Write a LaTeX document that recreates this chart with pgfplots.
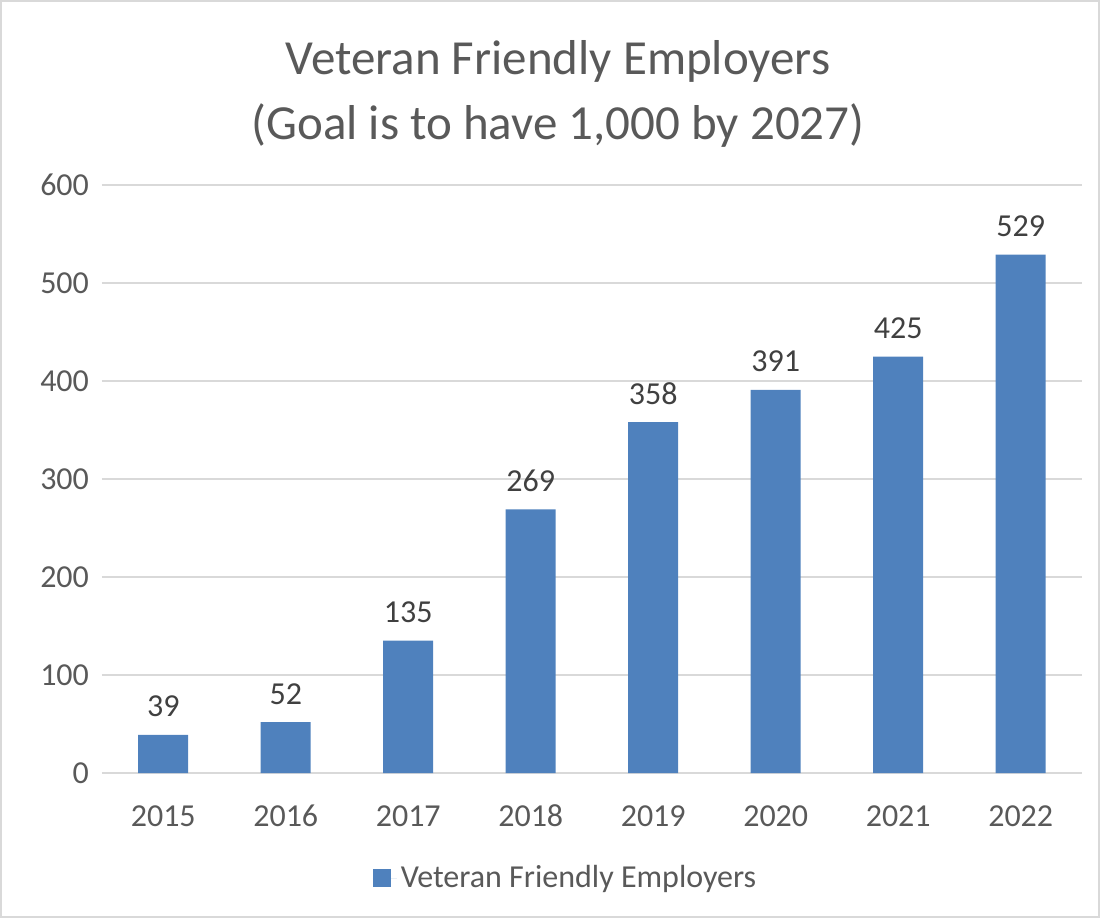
\documentclass[border=0pt]{standalone}
\usepackage{pgfplots}
\pgfplotsset{compat=1.18}
\usepackage{fontspec}
\setmainfont{Carlito}
\definecolor{barblue}{HTML}{4F81BD}
\definecolor{txtgray}{HTML}{595959}
\definecolor{lblgray}{HTML}{404040}
\definecolor{gridgray}{HTML}{D9D9D9}
\begin{document}
\begin{tikzpicture}
\path[use as bounding box] (0pt,0pt) rectangle (550pt,459pt);
\draw[gridgray, line width=0.75pt] (0.5pt,0.5pt) rectangle (549.5pt,458.5pt);
\node[align=center, text=txtgray, font=\fontsize{24.5}{32.5}\selectfont] at (279pt,412pt)
  {Veteran Friendly Employers\\(Goal is to have 1,000 by 2027)};
\begin{axis}[
  at={(51pt,72.5pt)}, anchor=south west,
  scale only axis,
  width=490pt, height=294pt,
  ybar, bar width=25pt,
  xmin=-0.5, xmax=7.5,
  ymin=0, ymax=600,
  ytick={0,100,...,600},
  xtick=data,
  xticklabels={2015,2016,2017,2018,2019,2020,2021,2022},
  ymajorgrids,
  grid style={gridgray, line width=0.75pt},
  axis line style={draw=none},
  major tick length=0pt,
  tick label style={font=\fontsize{16}{18}\selectfont, text=txtgray},
  /pgf/number format/assume math mode=true,
  yticklabel style={xshift=-3pt},
  xticklabel style={anchor=base, yshift=-26.5pt},
  nodes near coords,
  nodes near coords style={font=\fontsize{16}{18}\selectfont, text=lblgray, anchor=base, yshift=9pt},
  legend style={at={(0.474,-0.1786)}, anchor=center, draw=none,
    font=\fontsize{16}{18}\selectfont, text=txtgray},
  legend image code/.code={\fill[barblue] (0pt,-4.5pt) rectangle (9pt,4.5pt);
    \path (0pt,0pt) -- (12pt,0pt);},
]
\addplot[fill=barblue, draw=none] coordinates {
  (0,39) (1,52) (2,135) (3,269) (4,358) (5,391) (6,425) (7,529)
};
\addlegendentry{Veteran Friendly Employers}
\end{axis}
\end{tikzpicture}
\end{document}
